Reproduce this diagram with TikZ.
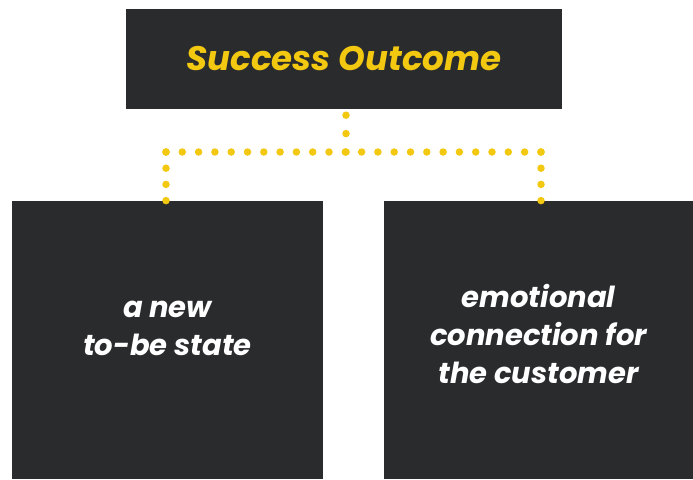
\documentclass[tikz,border=0pt]{standalone}
\usepackage{fontspec}
\setmainfont{Poppins}
\usetikzlibrary{positioning}

\definecolor{boxgray}{HTML}{2A2B2D}
\definecolor{dotyellow}{HTML}{F2C811}

\begin{document}
\begin{tikzpicture}[x=1pt,y=-1pt,
    box/.style={rectangle, fill=boxgray, inner sep=0pt, align=center, text=white,
      font=\bfseries\itshape\fontsize{29}{38}\selectfont},
    dotline/.style={dotyellow, line width=7.5pt, line cap=round,
      dash pattern=on 0pt off 16.3pt}]

  \useasboundingbox (0,0) rectangle (693,479);

  \node[box, minimum width=436pt, minimum height=100pt, text=dotyellow,
        font=\bfseries\itshape\fontsize{34}{38}\selectfont] (outcome) at (344,59) {Success Outcome};
  \node[box, minimum width=311pt, minimum height=278pt, text depth=24pt] (state) at (167.5,340) {a new\\to-be state};
  \node[box, minimum width=309pt, minimum height=278pt, text depth=12pt] (emotion) at (538.5,340) {emotional\\connection for\\the customer};

  \coordinate (bus) at (346,152);
  \coordinate (lbus) at (166,152);
  \coordinate (rbus) at (541,152);
  \draw[dotline, dash pattern=on 0pt off 18.4pt] ([yshift=-6pt]outcome.south -| bus) -- (bus);
  \draw[dotline] (lbus) -- (rbus);
  \draw[dotline, dash pattern=on 0pt off 16.2pt] (lbus) -- (lbus |- state.north);
  \draw[dotline, dash pattern=on 0pt off 16.2pt] (rbus) -- (rbus |- emotion.north);
\end{tikzpicture}
\end{document}
